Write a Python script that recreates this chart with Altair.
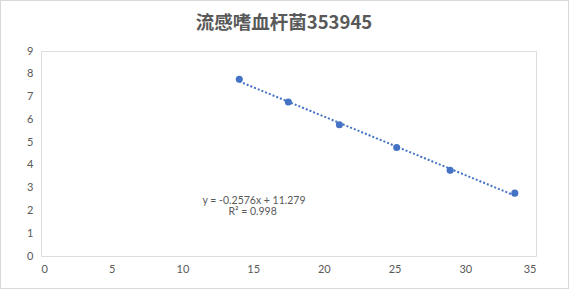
import altair as alt
import pandas as pd

x_vals = [14.02, 17.49, 21.10, 25.15, 28.93, 33.50]
y_vals = [7.76, 6.76, 5.76, 4.76, 3.76, 2.76]
title_text = "流感嗜血杆菌353945"
eq_lines = ["y = -0.2576x + 11.279", "R² = 0.998"]

df = pd.DataFrame({"x": x_vals, "y": y_vals})
ann = pd.DataFrame({"x": [15.06, 14.96], "y": [2.41, 1.93], "t": eq_lines})
ttl = pd.DataFrame({"t": [title_text]})

blue = "#4472C4"
gray = "#595959"
font = "Lato"

xs = alt.Scale(domain=[0, 35], nice=False)
ys = alt.Scale(domain=[0, 9], nice=False)
xax = alt.Axis(values=list(range(0, 36, 5)), title=None, grid=False, domain=False,
               ticks=False, labelPadding=7, labelColor=gray, labelFontSize=11, labelFont=font,
               labelOverlap=False)
yax = alt.Axis(values=list(range(0, 10)), title=None, grid=False, domain=False,
               ticks=False, labelPadding=8, labelColor=gray, labelFontSize=11, labelFont=font,
               labelOverlap=False, labelBound=False)

X = alt.X("x:Q", scale=xs, axis=xax)
Y = alt.Y("y:Q", scale=ys, axis=yax)

base = alt.Chart(df)

border = base.mark_rect(fill=None, stroke="#d9d9d9", strokeWidth=1, clip=False).encode(
    x=alt.value(-40.5), x2=alt.value(527.5), y=alt.value(-50.5), y2=alt.value(237.5)
)

title_mark = alt.Chart(ttl).mark_text(
    font="Noto Sans CJK SC", fontSize=18.5, fontWeight="bold", color=gray,
    align="center", baseline="middle", clip=False
).encode(x=alt.value(243), y=alt.value(-28.5), text="t:N")

trend = base.transform_regression("x", "y").mark_line(
    color=blue, strokeWidth=2, strokeDash=[2, 2]
).encode(x=X, y=Y)

pts = base.mark_circle(size=50, color=blue, opacity=1).encode(x=X, y=Y)

txt = alt.Chart(ann).mark_text(fontSize=10.5, font=font, color=gray, align="center",
                               baseline="middle").encode(x=X, y=Y, text="t:N")

chart = alt.layer(border, title_mark, trend, pts, txt).properties(
    width=495, height=205,
    padding={"left": 41, "top": 51, "right": 33, "bottom": 33},
    autosize=alt.AutoSizeParams(type="none"),
).configure_view(stroke="#d9d9d9", strokeWidth=1).configure(background="white")

chart.save("out.html", embed_options={"renderer": "svg", "actions": False})
